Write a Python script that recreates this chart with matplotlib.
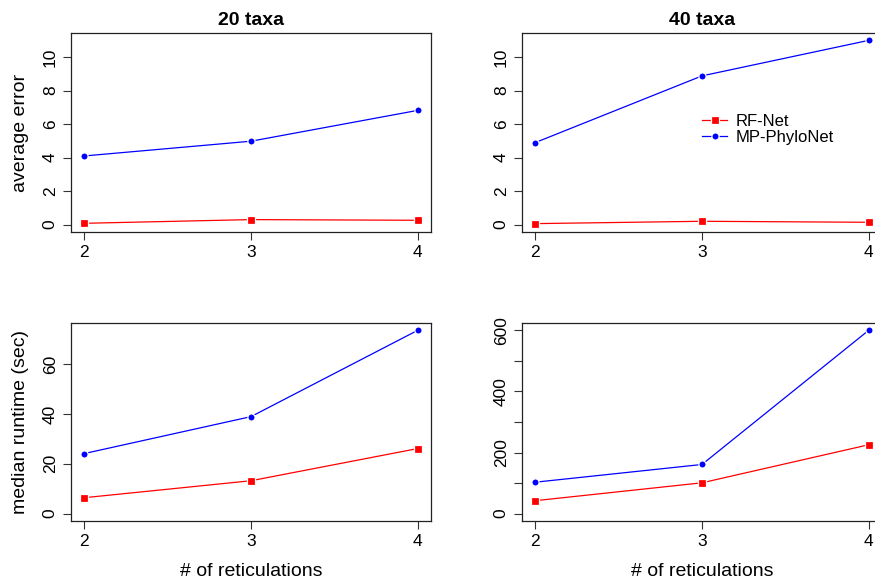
import matplotlib
matplotlib.use("Agg")
import matplotlib.pyplot as plt

plt.rcParams['font.family'] = ['Liberation Sans', 'DejaVu Sans']

# data
reticulations = [2, 3, 4]
rf_err_20 = [0.08, 0.30, 0.26]
mp_err_20 = [4.1, 4.98, 6.82]
rf_err_40 = [0.06, 0.20, 0.14]
mp_err_40 = [4.9, 8.88, 11.0]
rf_time_20 = [6.4, 13.2, 26.1]
mp_time_20 = [24.1, 38.9, 73.5]
rf_time_40 = [42.5, 101, 225.5]
mp_time_40 = [103, 161, 600]

W, H = 875, 579
fig = plt.figure(figsize=(W / 100, H / 100), dpi=100)


def box(left, top, right, bottom):
    return [left / W, (H - bottom) / H, (right - left) / W, (bottom - top) / H]


def panel(rect, rf, mp, yticks, ylim_hi, labelled=None):
    ax = fig.add_axes(rect)
    ax.plot(reticulations, rf, color='#ff0000', lw=0.9, marker='s', ms=5.2,
            mec='white', mew=0.9, label='RF-Net')
    ax.plot(reticulations, mp, color='#0000ff', lw=0.9, marker='o', ms=5.2,
            mec='white', mew=0.9, label='MP-PhyloNet')
    ax.set_xlim(1.92, 4.08)
    ax.set_ylim(-0.04 * ylim_hi, 1.04 * ylim_hi)
    ax.set_xticks(reticulations)
    ax.set_yticks(yticks)
    if labelled is not None:
        ax.set_yticklabels([str(t) if t in labelled else '' for t in yticks])
    for lab in ax.get_yticklabels():
        lab.set_rotation(90)
        lab.set_va('center')
    ax.tick_params(direction='out', length=5.5, width=0.8, labelsize=12.5,
                   color='#333333', pad=4)
    for s in ax.spines.values():
        s.set_linewidth(0.9)
        s.set_color('#222222')
    return ax


err_hi = max(max(mp_err_20), max(mp_err_40))
ax1 = panel(box(71, 33, 431, 232), rf_err_20, mp_err_20, range(0, 11, 2), err_hi)
ax2 = panel(box(522, 33, 882, 232), rf_err_40, mp_err_40, range(0, 11, 2), err_hi)
ax3 = panel(box(71, 323, 431, 521), rf_time_20, mp_time_20, range(0, 61, 20),
            max(mp_time_20))
ax4 = panel(box(522, 323, 882, 521), rf_time_40, mp_time_40, range(0, 601, 100),
            max(mp_time_40), labelled=[0, 200, 400, 600])

ax1.set_title('20 taxa', fontsize=14, fontweight='bold', pad=5.5)
ax2.set_title('40 taxa', fontsize=14, fontweight='bold', pad=5.5)
ax1.set_ylabel('average error', fontsize=14, labelpad=10)
ax3.set_ylabel('median runtime (sec)', fontsize=14, labelpad=10)
ax3.set_xlabel('# of reticulations', fontsize=14, labelpad=10)
ax4.set_xlabel('# of reticulations', fontsize=14, labelpad=10)

ax2.legend(loc='upper left', bbox_to_anchor=(702 / W, 1 - 114 / H),
           bbox_transform=fig.transFigure, frameon=False, fontsize=12,
           handlelength=1.5, handletextpad=0.5, labelspacing=0.08,
           borderpad=0, borderaxespad=0)

fig.savefig('out.png', dpi=100)
